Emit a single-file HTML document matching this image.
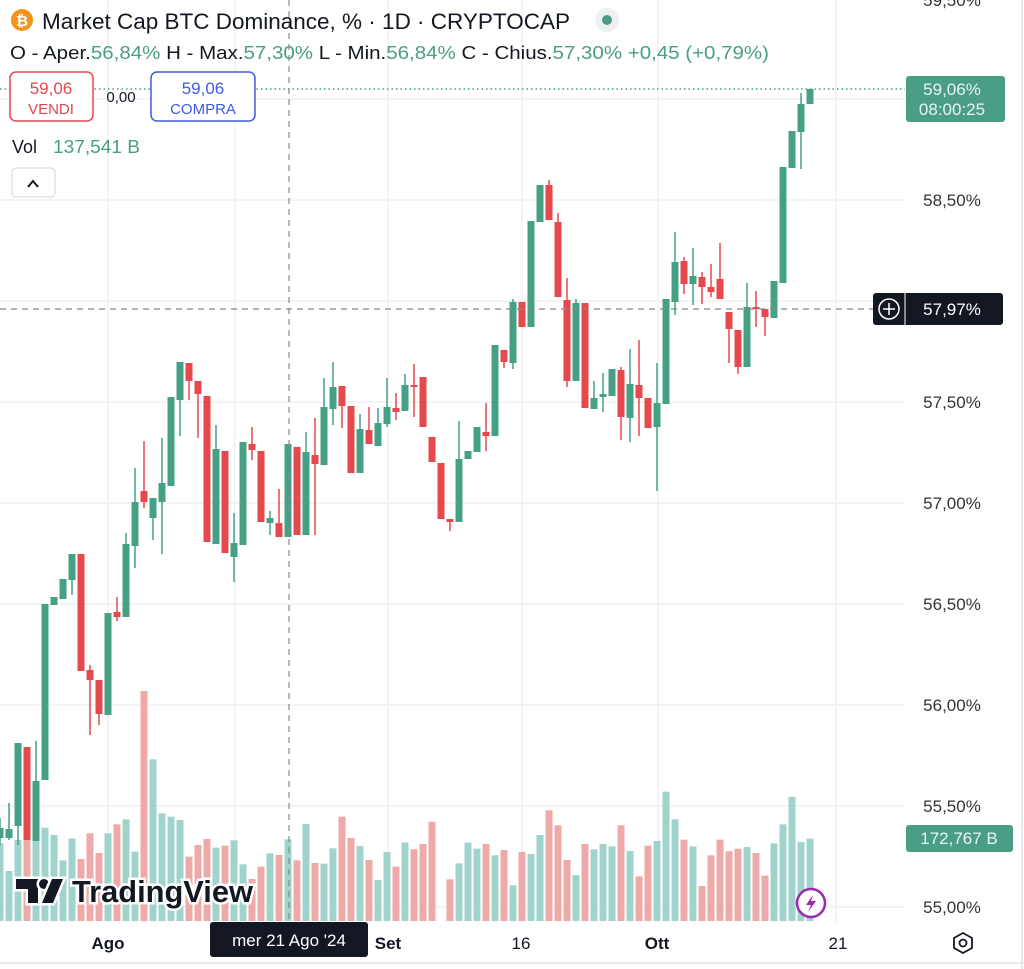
<!DOCTYPE html>
<html><head><meta charset="utf-8"><style>
html,body{margin:0;padding:0;background:#fff;width:1024px;height:969px;overflow:hidden;font-family:"Liberation Sans",sans-serif;}
</style></head><body>
<svg id="s" width="1024" height="969" xmlns="http://www.w3.org/2000/svg" style="position:absolute;left:0;top:0">
<g stroke="#f0f1f3" stroke-width="1.5">
<line x1="0" y1="99" x2="905" y2="99"/><line x1="0" y1="200" x2="905" y2="200"/><line x1="0" y1="301" x2="905" y2="301"/><line x1="0" y1="402" x2="905" y2="402"/><line x1="0" y1="503" x2="905" y2="503"/><line x1="0" y1="604" x2="905" y2="604"/><line x1="0" y1="705" x2="905" y2="705"/><line x1="0" y1="806" x2="905" y2="806"/><line x1="0" y1="907" x2="905" y2="907"/>
<line x1="108" y1="0" x2="108" y2="922"/><line x1="235" y1="0" x2="235" y2="922"/><line x1="388" y1="0" x2="388" y2="922"/><line x1="522" y1="0" x2="522" y2="922"/><line x1="658" y1="0" x2="658" y2="922"/><line x1="836" y1="0" x2="836" y2="922"/>
</g>
<g id="vol"></g>
<g id="cnd"></g>
<line x1="0" y1="89" x2="905" y2="89" stroke="#4a9e85" stroke-width="1.5" stroke-dasharray="1.5,3"/>
<line x1="289" y1="0" x2="289" y2="922" stroke="#888" stroke-width="1.2" stroke-dasharray="6,5"/>
<line x1="0" y1="309" x2="873" y2="309" stroke="#888" stroke-width="1.2" stroke-dasharray="6,5"/>
<g font-size="17" fill="#333" text-anchor="middle">
<text x="952" y="6">59,50%</text>
<text x="952" y="206">58,50%</text>
<text x="952" y="408">57,50%</text>
<text x="952" y="509">57,00%</text>
<text x="952" y="610">56,50%</text>
<text x="952" y="711">56,00%</text>
<text x="952" y="812">55,50%</text>
<text x="952" y="913">55,00%</text>
</g>
<rect x="906" y="76" width="99" height="46" rx="3" fill="#4a9e85"/>
<text x="952" y="95" font-size="17" fill="#e8f5f1" text-anchor="middle">59,06%</text>
<text x="952" y="115" font-size="17" fill="#e8f5f1" text-anchor="middle">08:00:25</text>
<rect x="873" y="293" width="130" height="32" rx="3" fill="#131722"/>
<line x1="905" y1="293" x2="905" y2="325" stroke="#fff" stroke-width="1"/>
<circle cx="889" cy="309" r="10" fill="none" stroke="#fff" stroke-width="1.5"/>
<line x1="883" y1="309" x2="895" y2="309" stroke="#fff" stroke-width="1.5"/><line x1="889" y1="303" x2="889" y2="315" stroke="#fff" stroke-width="1.5"/>
<text x="952" y="315" font-size="17" fill="#fff" text-anchor="middle">57,97%</text>
<rect x="906" y="825" width="107" height="27" rx="3" fill="#4a9e85"/>
<text x="959" y="844" font-size="17" fill="#e8f5f1" text-anchor="middle">172,767 B</text>
<g font-size="17" fill="#131722" text-anchor="middle">
<text x="108" y="949" font-weight="bold">Ago</text>
<text x="388" y="949" font-weight="bold">Set</text>
<text x="521" y="949">16</text>
<text x="657" y="949" font-weight="bold">Ott</text>
<text x="838" y="949">21</text>
</g>
<rect x="210" y="922" width="158" height="35" rx="3" fill="#131722"/>
<text x="289" y="946" font-size="17" fill="#fff" text-anchor="middle">mer 21 Ago '24</text>
<polygon points="963,933 972,938 972,948 963,953 954,948 954,938" fill="none" stroke="#131722" stroke-width="1.8"/>
<circle cx="963" cy="943" r="3.5" fill="none" stroke="#131722" stroke-width="1.8"/>
<line x1="0" y1="963" x2="1024" y2="963" stroke="#e0e3eb" stroke-width="1.5"/>
<line x1="1022" y1="0" x2="1022" y2="969" stroke="#e0e3eb" stroke-width="1.5"/>
<g stroke="#fff" stroke-width="5" paint-order="stroke">
<path d="M16 879 H38 V903 H28 V889 H16 Z" fill="#131722"/>
<circle cx="44" cy="884" r="5" fill="#131722"/>
<path d="M52 879 H63 L53 903 H42 Z" fill="#131722"/>
<text x="72" y="902" font-size="31" font-weight="bold" fill="#131722" textLength="181" lengthAdjust="spacingAndGlyphs">TradingView</text>
</g>
<circle cx="811" cy="903" r="14" fill="#fff" stroke="#9c27b0" stroke-width="2.5"/>
<path d="M813 895 L806 905 H811 L808 912 L816 901 H811 Z" fill="#9c27b0"/>
<circle cx="22" cy="20" r="11" fill="#f7931a"/>
<text x="22" y="26" font-size="15" font-weight="bold" fill="#fff" text-anchor="middle">₿</text>
<text x="42" y="29" font-size="22" fill="#131722" textLength="528" lengthAdjust="spacingAndGlyphs">Market Cap BTC Dominance, % · 1D · CRYPTOCAP</text>
<circle cx="607" cy="20" r="12" fill="#eef0f3"/>
<circle cx="607" cy="20" r="5" fill="#4a9e85"/>
<text x="10" y="59" font-size="18" fill="#131722" textLength="759" lengthAdjust="spacingAndGlyphs">O - Aper.<tspan fill="#4a9e85">56,84%</tspan>  H - Max.<tspan fill="#4a9e85">57,30%</tspan>  L - Min.<tspan fill="#4a9e85">56,84%</tspan>  C - Chius.<tspan fill="#4a9e85">57,30%  +0,45 (+0,79%)</tspan></text>
<rect x="10" y="72" width="83" height="49" rx="6" fill="#fff" stroke="#e04850" stroke-width="1.5"/>
<text x="51" y="94" font-size="17" fill="#e04850" text-anchor="middle">59,06</text>
<text x="51" y="114" font-size="15" fill="#e04850" text-anchor="middle">VENDI</text>
<text x="121" y="102" font-size="15" fill="#131722" text-anchor="middle">0,00</text>
<rect x="151" y="72" width="104" height="49" rx="6" fill="#fff" stroke="#3d5be0" stroke-width="1.5"/>
<text x="203" y="94" font-size="17" fill="#3d5be0" text-anchor="middle">59,06</text>
<text x="203" y="114" font-size="15" fill="#3d5be0" text-anchor="middle">COMPRA</text>
<text x="12" y="153" font-size="18" fill="#131722">Vol</text>
<text x="53" y="153" font-size="18" fill="#4a9e85" textLength="87" lengthAdjust="spacingAndGlyphs">137,541 B</text>
<rect x="12" y="168" width="43" height="29" rx="4" fill="#fff" stroke="#d1d4dc" stroke-width="1"/>
<polyline points="28,187 33,181 38,187" fill="none" stroke="#131722" stroke-width="2"/>
</svg>
<script>
var G="#45a086",R="#e5484d",GV="#9fd3cc",RV="#eeaaa8";
var C=[[-12,'g',828,838,818,845],[-11,'g',829,838,803,840],[-10,'g',743,826,743,845],[-9,'r',747,840],[-8,'g',781,841,741,841],[-7,'g',604,780],[-6,'g',597,605],[-5,'g',579,599],[-4,'g',554,580,554,595],[-3,'r',554,671],[-2,'r',670,680,665,735],[-1,'r',680,714,680,725],[0,'g',613,715],[1,'r',612,617,597,621],[2,'g',544,617,533,617],[3,'g',502,546,468,568],[4,'r',491,502,441,508],[5,'g',498,518,498,540],[6,'g',483,502,438,554],[7,'g',397,486],[8,'g',362,400,362,436],[9,'r',363,381,363,400],[10,'r',381,394,381,438],[11,'r',396,542],[12,'g',449,544,425,544],[13,'r',451,553],[14,'g',543,557,513,582],[15,'g',442,545],[16,'r',444,450,427,460],[17,'r',451,522],[18,'g',518,523,511,535],[19,'r',523,537,489,537],[20,'g',444,537],[21,'r',447,535],[22,'g',452,535,432,535],[23,'r',455,464,418,535],[24,'g',407,465,378,465],[25,'g',387,409,362,425],[26,'r',386,406,386,428],[27,'r',406,473],[28,'g',429,473,414,473],[29,'r',430,444,407,444],[30,'g',423,446,408,446],[31,'g',407,424,378,427],[32,'r',408,412,393,420],[33,'g',385,411,374,411],[34,'r',385,387,364,417],[35,'r',377,427],[36,'r',437,462],[37,'r',463,519],[38,'r',519,522,519,531],[39,'g',459,522,421,522],[40,'g',451,459],[41,'g',427,452],[42,'r',432,436,403,451],[43,'g',345,436],[44,'r',350,362,350,368],[45,'g',302,363,299,369],[46,'r',302,327],[47,'g',221,327],[48,'g',185,222],[49,'r',185,220,180,220],[50,'r',222,297,213,297],[51,'r',300,381,278,387],[52,'g',303,381,299,381],[53,'r',303,408],[54,'g',398,409,381,409],[55,'g',394,397,373,412],[56,'g',369,396],[57,'r',370,417,367,440],[58,'g',384,418,349,442],[59,'r',385,398,340,436],[60,'r',398,428],[61,'g',403,427,363,491],[62,'g',299,404],[63,'g',262,302,232,315],[64,'r',261,284,257,294],[65,'g',276,284,248,305],[66,'r',277,287,272,304],[67,'r',287,292,264,297],[68,'r',279,299,243,299],[69,'r',312,329,312,363],[70,'r',330,367,330,374],[71,'g',307,367,283,367],[72,'r',307,308,291,327],[73,'r',309,317,309,336],[74,'g',281,318],[75,'g',167,283],[76,'g',131,168],[77,'g',104,132,93,169],[78,'g',89,104]];
var V1=[490,573,480,480,483,443,465,541,476,537,460,519,460,433,418,515,33,238,400,410,420,530,495,477,503,497,481,553,597,560,520,525,478,541,432,549,551,505,410,474,498,540,600,516,560,487,508,492,425];
var V2=[328,280,218,236,222,256,240,346,246,252,195,121,166,270,315,222,238,222,229,166,243,319,227,213,65,148,209,229,348,256,209,244,236,231,249,317,220,163,81,216,206];
var ns="http://www.w3.org/2000/svg",cg=document.getElementById('cnd'),vg=document.getElementById('vol');
function el(g,t,a){var e=document.createElementNS(ns,t);for(var k in a)e.setAttribute(k,a[k]);g.appendChild(e);}
var col={};
C.forEach(function(c){var x=108+9*c[0],f=c[1]=='g'?G:R;col[c[0]]=c[1];
var wt=c.length>4?c[4]:c[2],wb=c.length>4?c[5]:c[3];
el(cg,'line',{x1:x,x2:x,y1:wt,y2:wb,stroke:f,'stroke-width':1.5});
el(cg,'rect',{x:x-3.5,y:c[2],width:7,height:Math.max(2,c[3]-c[2]),fill:f});});
function vb(d,top){var x=108+9*d;el(vg,'rect',{x:x-3.5,y:top,width:7,height:921-top,fill:col[d]=='g'?GV:RV});}
V1.forEach(function(v,i){vb(i-12,680+v/3);});
V2.forEach(function(v,i){vb(i+38,770+v/3);});
</script>
</body></html>
